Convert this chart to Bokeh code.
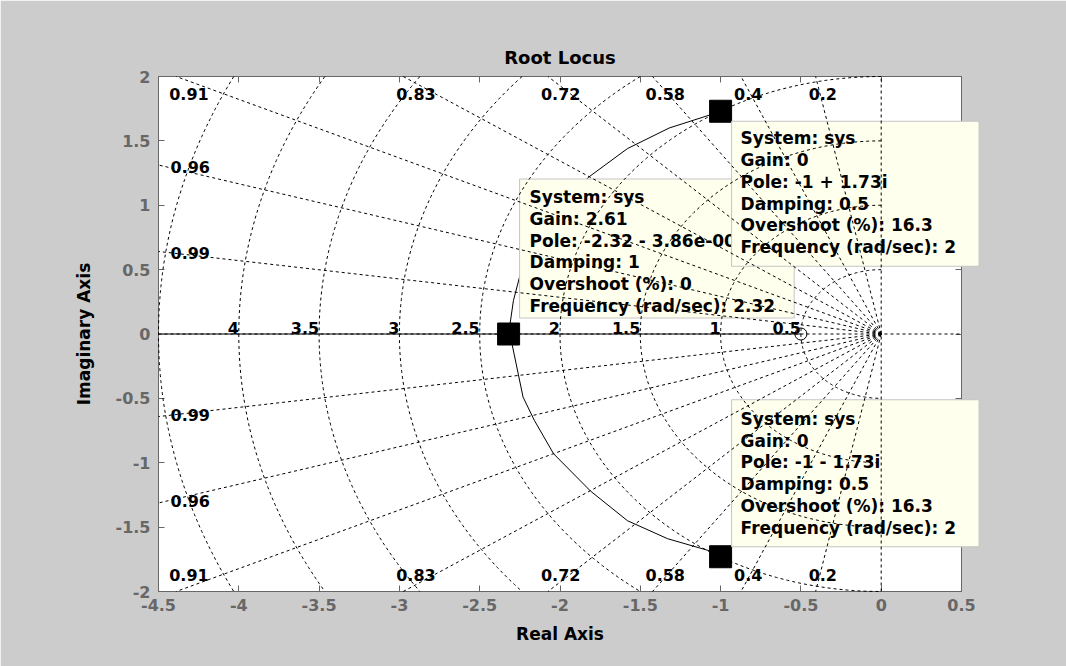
import numpy as np
from bokeh.plotting import figure
from bokeh.models import Range1d, LinearAxis, FixedTicker
from bokeh.core.properties import value
from bokeh.embed import file_html
from bokeh.resources import INLINE

# ---------------- data ----------------
x_ticks = [-4.5, -4, -3.5, -3, -2.5, -2, -1.5, -1, -0.5, 0, 0.5]
x_tick_labels = ["-4.5", "-4", "-3.5", "-3", "-2.5", "-2", "-1.5", "-1", "-0.5", "0", "0.5"]
y_ticks = [-2, -1.5, -1, -0.5, 0, 0.5, 1, 1.5, 2]
y_tick_labels = ["-2", "-1.5", "-1", "-0.5", "0", "0.5", "1", "1.5", "2"]

# s-plane grid (damping ratios, natural frequencies)
zeta_edge = [0.91, 0.83, 0.72, 0.58, 0.4, 0.2]      # labelled on top / bottom edge
zeta_edge_labels = ["0.91", "0.83", "0.72", "0.58", "0.4", "0.2"]
zeta_side = [0.96, 0.99]                              # labelled on left edge
zeta_side_labels = ["0.96", "0.99"]
wn_circles = [0.5, 1, 1.5, 2, 2.5, 3, 3.5, 4, 4.5]
wn_labelled = [0.5, 1, 1.5, 2, 2.5, 3, 3.5, 4]
wn_labels = ["0.5", "1", "1.5", "2", "2.5", "3", "3.5", "4"]

# open-loop poles / zero
pole_re = [-1.0, -1.0]
pole_im = [1.73, -1.73]
zero_re = [-0.5]
zero_im = [0.0]
breakaway_re = [-2.32]
breakaway_im = [0.0]

# root locus branches
arc_upper_re = [-1.00, -1.07, -1.32, -1.58, -1.82, -2.00, -2.14, -2.24, -2.29, -2.32]
arc_upper_im = [1.73, 1.70, 1.60, 1.44, 1.22, 1.00, 0.76, 0.50, 0.26, 0.00]
arc_lower_re = [-2.32, -2.30, -2.23, -2.16, -2.04, -1.81, -1.58, -1.33, -1.08, -1.00]
arc_lower_im = [0.00, -0.07, -0.49, -0.67, -0.93, -1.22, -1.45, -1.59, -1.68, -1.73]
real_locus_re = [-4.5, -2.32, -0.5]
real_locus_im = [0.0, 0.0, 0.0]

tip_upper = ["System: sys", "Gain: 0", "Pole: -1 + 1.73i", "Damping: 0.5",
             "Overshoot (%): 16.3", "Frequency (rad/sec): 2"]
tip_break = ["System: sys", "Gain: 2.61", "Pole: -2.32 - 3.86e-00", "Damping: 1",
             "Overshoot (%): 0", "Frequency (rad/sec): 2.32"]
tip_lower = ["System: sys", "Gain: 0", "Pole: -1 - 1.73i", "Damping: 0.5",
             "Overshoot (%): 16.3", "Frequency (rad/sec): 2"]

# ---------------- figure ----------------
FONT = value("DejaVu Sans")
GRAY = "#676767"
X0, X1, Y0, Y1 = -4.5, 0.5, -2.0, 2.0

p = figure(width=1066, height=666, output_backend="svg", toolbar_location=None,
           x_range=Range1d(X0, X1), y_range=Range1d(Y0, Y1),
           x_axis_location=None, y_axis_location=None,
           min_border_left=158, min_border_right=105, min_border_top=76, min_border_bottom=75)
p.background_fill_color = "white"
p.border_fill_color = "#cccccc"
p.outline_line_color = None
p.xgrid.visible = False
p.ygrid.visible = False

p.title.text = "Root Locus"
p.title.align = "center"
p.title.text_font = "DejaVu Sans"
p.title.text_font_size = "18px"
p.title.text_font_style = "bold"
p.title.text_color = "black"
p.title.standoff = 18

def make_axis(ticks, labels, show_labels, label_text=None):
    ax = LinearAxis(ticker=FixedTicker(ticks=ticks))
    ax.major_label_overrides = {t: l for t, l in zip(ticks, labels)}
    ax.major_tick_in = 6
    ax.major_tick_out = 0
    ax.minor_tick_line_color = None
    ax.major_tick_line_color = GRAY
    ax.axis_line_color = GRAY
    ax.axis_line_width = 1
    ax.major_label_text_font = "DejaVu Sans"
    ax.major_label_text_font_style = "bold"
    ax.major_label_text_font_size = "16px"
    ax.major_label_text_color = GRAY
    if not show_labels:
        ax.major_label_text_font_size = "0px"
        ax.major_label_text_color = None
    if label_text:
        ax.axis_label = label_text
        ax.axis_label_text_font = "DejaVu Sans"
        ax.axis_label_text_font_style = "bold"
        ax.axis_label_text_font_size = "17px"
        ax.axis_label_text_color = "black"
    return ax

bx = make_axis(x_ticks, x_tick_labels, True, "Real Axis")
bx.major_label_standoff = 7
bx.axis_label_standoff = 10
ly = make_axis(y_ticks, y_tick_labels, True, "Imaginary Axis")
ly.major_label_standoff = 8
ly.axis_label_standoff = 19
tx = make_axis(x_ticks, x_tick_labels, False)
ry = make_axis(y_ticks, y_tick_labels, False)
p.add_layout(bx, "below")
p.add_layout(ly, "left")
p.add_layout(tx, "above")
p.add_layout(ry, "right")

# ---------------- root locus ----------------
p.line(real_locus_re, real_locus_im, line_color="black", line_width=1)
p.line(arc_upper_re, arc_upper_im, line_color="black", line_width=1)
p.line(arc_lower_re, arc_lower_im, line_color="black", line_width=1)
p.scatter(zero_re, zero_im, marker="circle", size=12, fill_color=None,
          line_color="black", line_width=1)

# ---------------- grid labels ----------------
LBL = dict(text_font=FONT, text_font_style="bold", text_font_size="16px", text_color="black")
ze = np.array(zeta_edge)
edge_x = list(-Y1 * ze / np.sqrt(1 - ze ** 2))
p.text(edge_x, [Y1] * len(ze), text=zeta_edge_labels, x_offset=-7, y_offset=17,
       text_baseline="middle", text_align="left", **LBL)
p.text(edge_x, [Y0] * len(ze), text=zeta_edge_labels, x_offset=-7, y_offset=-17,
       text_baseline="middle", text_align="left", **LBL)
zs = np.array(zeta_side)
side_y = list(-X0 * np.sqrt(1 - zs ** 2) / zs)
p.text([X0] * len(zs), side_y, text=zeta_side_labels, x_offset=12, y_offset=2,
       text_baseline="middle", text_align="left", **LBL)
p.text([X0] * len(zs), [-v for v in side_y], text=zeta_side_labels, x_offset=12, y_offset=-2,
       text_baseline="middle", text_align="left", **LBL)
p.text([-w for w in wn_labelled], [0] * len(wn_labelled), text=wn_labels, x_offset=0, y_offset=-6,
       text_baseline="alphabetic", text_align="right", **LBL)

# ---------------- datatip markers ----------------
p.scatter(pole_re, pole_im, marker="square", size=22, fill_color="black", line_color="black")
p.scatter(breakaway_re, breakaway_im, marker="square", size=22, fill_color="black", line_color="black")

# ---------------- datatip boxes (overlay level so they may cross the axes edge) ----------------
def tip(x, y, lines, anchor, xo, yo, pad):
    p.text([x], [y], text=["\n".join(lines)], x_offset=xo, y_offset=yo, anchor=anchor,
           text_font=FONT, text_font_style="bold", text_font_size="17px",
           text_color="black", text_line_height=1.09, text_align="left",
           background_fill_color="#ffffee", border_line_color="#c4c4c4",
           border_line_width=1, padding=pad, level="overlay")

tip(breakaway_re[0], breakaway_im[0], tip_break, "bottom_left", 11, -16,
    dict(left=10, right=19, top=8, bottom=2))
tip(pole_re[0], pole_im[0], tip_upper, "top_left", 11, 10,
    dict(left=9, right=23, top=7, bottom=9))
tip(pole_re[1], pole_im[1], tip_lower, "bottom_left", 11, -10,
    dict(left=9, right=23, top=9, bottom=9))

# ---------------- s-plane grid (drawn on top, clipped to the axes box) ----------------
gx, gy = [], []
for z in zeta_edge + zeta_side:
    th = np.arccos(z)
    t = min(Y1 / np.sin(th), -X0 / np.cos(th))
    ex, ey = -t * np.cos(th), t * np.sin(th)
    gx.append([0, ex]); gy.append([0, ey])
    gx.append([0, ex]); gy.append([0, -ey])
gx.append([0, 0]); gy.append([Y0, Y1])          # zeta = 0
gx.append([X0, X1]); gy.append([0, 0])          # zeta = 1 / real axis
for w in wn_circles:
    half = np.pi / 2 if w <= Y1 else np.arcsin(Y1 / w)
    phi = np.linspace(np.pi - half, np.pi + half, 181)
    gx.append(list(w * np.cos(phi))); gy.append(list(w * np.sin(phi)))
p.multi_line(gx, gy, line_color="black", line_width=1, line_dash="3 3", level="overlay")

open("out.html", "w").write(file_html(p, INLINE))
